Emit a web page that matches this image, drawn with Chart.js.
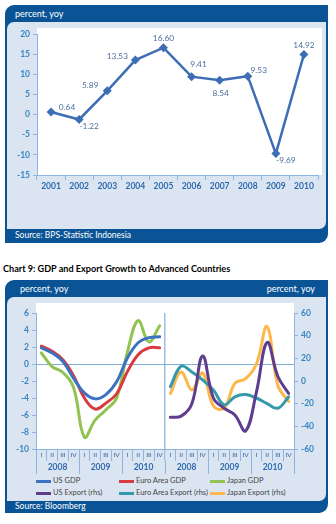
<!DOCTYPE html>
<html><head><meta charset="utf-8">
<script src="https://cdn.jsdelivr.net/npm/chart.js@4.4.0/dist/chart.umd.min.js"></script>
<style>
html,body{margin:0;padding:0;background:#fff;width:336px;height:524px;overflow:hidden;font-family:Lato,'Open Sans',sans-serif;}
.outer{position:absolute;background:#0A5496;border-radius:9px 0 9px 0;}
.inner{position:absolute;background:#DBE5F1;border-radius:7px 0 7px 0;}
.txt{position:absolute;white-space:nowrap;line-height:1;}
.hdr{color:#fff;font-size:9px;}
.src{color:#fff;font-size:8.5px;}
canvas{position:absolute;left:0;}
.leg{position:absolute;font-size:7.5px;color:#444;white-space:nowrap;line-height:1;}
.leg i{position:absolute;left:0;top:3px;height:2.5px;width:15px;}
</style></head>
<body>
<div class="outer" style="left:5px;top:5px;width:323px;height:238px;"></div>
<div class="inner" style="left:7px;top:22px;width:319px;height:207px;"></div>
<div class="txt hdr" style="left:15px;top:9px;">percent, yoy</div>
<div class="txt src" style="left:15px;top:231px;">Source: BPS-Statistic Indonesia</div>

<div class="txt" style="left:3px;top:264px;font-size:9.1px;font-weight:bold;color:#000;">Chart 9: GDP and Export Growth to Advanced Countries</div>

<div class="outer" style="left:5px;top:280px;width:323px;height:233px;"></div>
<div class="inner" style="left:7px;top:297px;width:319px;height:204px;"></div>
<div class="txt hdr" style="left:20px;top:284px;">percent, yoy</div>
<div class="txt hdr" style="right:21px;top:284px;">percent, yoy</div>
<div class="txt src" style="left:15px;top:502px;">Source: Bloomberg</div>

<div id="legend"></div>

<canvas id="c1" width="336" height="200" style="top:0px;width:336px;height:200px;"></canvas>
<canvas id="c2" width="336" height="194" style="top:280px;width:336px;height:194px;"></canvas>

<script>
// ---------- Chart 1 data ----------
const years = ['2001','2002','2003','2004','2005','2006','2007','2008','2009','2010'];
const gdpGrowth = [0.64, -1.22, 5.89, 13.53, 16.60, 9.41, 8.54, 9.53, -9.69, 14.92];

// ---------- Chart 2 data ----------
const quarters = ['I','II','III','IV'];
const periodYears = ['2008','2009','2010'];
const usGDP       = [1.9, 1.3, 0.3, -1.7, -3.4, -4.1, -3.6, -2.1, 0.7, 2.5, 3.1, 3.2];
const euroGDP     = [2.1, 1.5, 0.5, -1.4, -4.0, -5.3, -4.6, -3.5, -0.9, 1.1, 1.9, 1.9];
const japanGDP    = [1.3, -0.3, -1.0, -2.8, -8.6, -6.6, -5.4, -4.0, 1.4, 5.1, 2.6, 4.5];
const usExport    = [-32, -31, -20, 22, -15, -24, -30, -44, -10, 34, 4, -11];
const euroExport  = [-5, 13, 8, 1, -8, -21, -14, -12, -15, -20, -24, -14];
const japanExport = [-11, 8, -8, 7, -22, -24, -2, 2, 15, 48, -4, -18];

// ---------- styles ----------
const AXIS = '#8DB4E2';
const TICKC = '#3A85C2';
const FONT = 'Lato';
Chart.defaults.font.family = FONT;

// label offsets (px) relative to each point for chart 1
const labelOffsets = [[16,-5],[10,7],[-17,-6],[-18,-4],[0,-9],[7,-12],[1,13],[11,-6],[10,7],[0,-9]];

function whiteBg(extTop, extRight){
  return {id:'whitebg', beforeDraw(chart){
    const a = chart.chartArea, c = chart.ctx;
    c.save(); c.fillStyle = '#fff';
    c.fillRect(a.left, a.top - extTop, a.right - a.left + extRight, a.bottom - a.top + extTop);
    c.restore();
  }};
}

const valueLabels = {id:'vlabels', afterDatasetsDraw(chart){
  const meta = chart.getDatasetMeta(0), c = chart.ctx;
  c.save();
  c.font = '8.3px ' + FONT; c.fillStyle = '#4A6E9E';
  c.textAlign = 'center'; c.textBaseline = 'middle';
  meta.data.forEach((p,i)=>{
    c.fillText(gdpGrowth[i].toFixed(2), p.x + labelOffsets[i][0], p.y + labelOffsets[i][1]);
  });
  c.restore();
}};

new Chart(document.getElementById('c1'), {
  type:'line',
  data:{labels:years, datasets:[{data:gdpGrowth, borderColor:'#3D6DB5', backgroundColor:'#3D6DB5',
    borderWidth:2.5, pointStyle:'rectRot', pointRadius:4.5, pointBorderWidth:0, tension:0}]},
  options:{
    responsive:false, animation:false, devicePixelRatio:1,
    layout:{padding:{top:34,right:18,left:0,bottom:0}},
    plugins:{legend:{display:false}, tooltip:{enabled:false}},
    scales:{
      x:{offset:true,
         grid:{offset:true, drawOnChartArea:false, tickLength:5, color:AXIS},
         border:{color:AXIS},
         ticks:{autoSkip:false, maxRotation:0, padding:1, color:'#2E6AAE', font:{size:8.5, weight:'bold'}},
         afterFit:s=>{s.height=25;}},
      y:{min:-15, max:20,
         grid:{drawOnChartArea:false, tickLength:4, color:AXIS},
         border:{color:AXIS},
         ticks:{stepSize:5, padding:3, color:TICKC, font:{size:8.5, weight:'bold'}},
         afterFit:s=>{s.width=37;}}
    }
  },
  plugins:[whiteBg(6,4), valueLabels]
});

// ---------- Chart 2 ----------
const qLabels = [];
for (let h=0; h<2; h++) for (const y of periodYears) for (const q of quarters) qLabels.push(q);
const yLabels = periodYears.concat(periodYears);
const gap = Array(12).fill(null);

const series = [
  {label:'US GDP', data:usGDP.concat(gap), color:'#3B73C2', axis:'y'},
  {label:'Euro Area GDP', data:euroGDP.concat(gap), color:'#D93A40', axis:'y'},
  {label:'Japan GDP', data:japanGDP.concat(gap), color:'#92C352', axis:'y'},
  {label:'US Export (rhs)', data:gap.concat(usExport), color:'#5E3D8F', axis:'y1'},
  {label:'Euro Area Export (rhs)', data:gap.concat(euroExport), color:'#3499AB', axis:'y1'},
  {label:'Japan Export (rhs)', data:gap.concat(japanExport), color:'#FDB74A', axis:'y1'}
];

new Chart(document.getElementById('c2'), {
  type:'line',
  data:{labels:qLabels, datasets:series.map(s=>({label:s.label, data:s.data, borderColor:s.color,
    backgroundColor:s.color, yAxisID:s.axis, borderWidth:3, pointRadius:0, tension:0.4,
    borderCapStyle:'round', spanGaps:false}))},
  options:{
    responsive:false, animation:false, devicePixelRatio:1,
    layout:{padding:{top:33,right:0,left:0,bottom:0}},
    plugins:{legend:{display:false}, tooltip:{enabled:false}},
    scales:{
      x:{type:'category', position:'bottom', offset:true, weight:0,
         grid:{offset:true, drawOnChartArea:true, tickLength:12, tickColor:AXIS, tickWidth:1,
               lineWidth:c=> c.index===12 ? 1.5 : 1,
               color:c=> c.index===12 ? '#9CC0E0' : 'rgba(0,0,0,0)'},
         border:{color:AXIS},
         ticks:{autoSkip:false, maxRotation:0, padding:-10, color:'#2B5C9A', font:{size:6.5}},
         afterFit:s=>{s.height=12;}},
      xYear:{type:'category', labels:yLabels, position:'bottom', offset:true, weight:1,
         grid:{offset:true, drawOnChartArea:false, tickLength:13, color:AXIS},
         border:{display:false},
         ticks:{autoSkip:false, maxRotation:0, padding:-12, color:'#2E6AAE', font:{size:8.5, weight:'bold'}},
         afterFit:s=>{s.height=13;}},
      y:{position:'left', min:-10, max:6,
         grid:{tickLength:4, tickColor:AXIS, color:c=> (c.tick && c.tick.value===0) ? '#7FB0D8' : 'rgba(0,0,0,0)'},
         border:{color:AXIS},
         ticks:{stepSize:2, padding:3, color:TICKC, font:{size:8.5, weight:'bold'}},
         afterFit:s=>{s.width=36;}},
      y1:{position:'right', min:-60, max:60,
         grid:{drawOnChartArea:false, tickLength:4, color:AXIS},
         border:{color:AXIS},
         ticks:{stepSize:20, padding:3, color:TICKC, font:{size:8.5, weight:'bold'}},
         afterFit:s=>{s.width=42;}}
    }
  },
  plugins:[whiteBg(10,0)]
});

// HTML legend built from the series
const legPos = [[36,477],[119,477],[210,477],[36,489],[119,489],[210,489]];
const leg = document.getElementById('legend');
series.forEach((s,i)=>{
  const d = document.createElement('div');
  d.className='leg';
  d.style.left = legPos[i][0]+'px'; d.style.top = legPos[i][1]+'px';
  d.style.paddingLeft='17px';
  d.innerHTML = '<i style="background:'+s.color+'"></i>'+s.label;
  leg.appendChild(d);
});
</script>
</body></html>
